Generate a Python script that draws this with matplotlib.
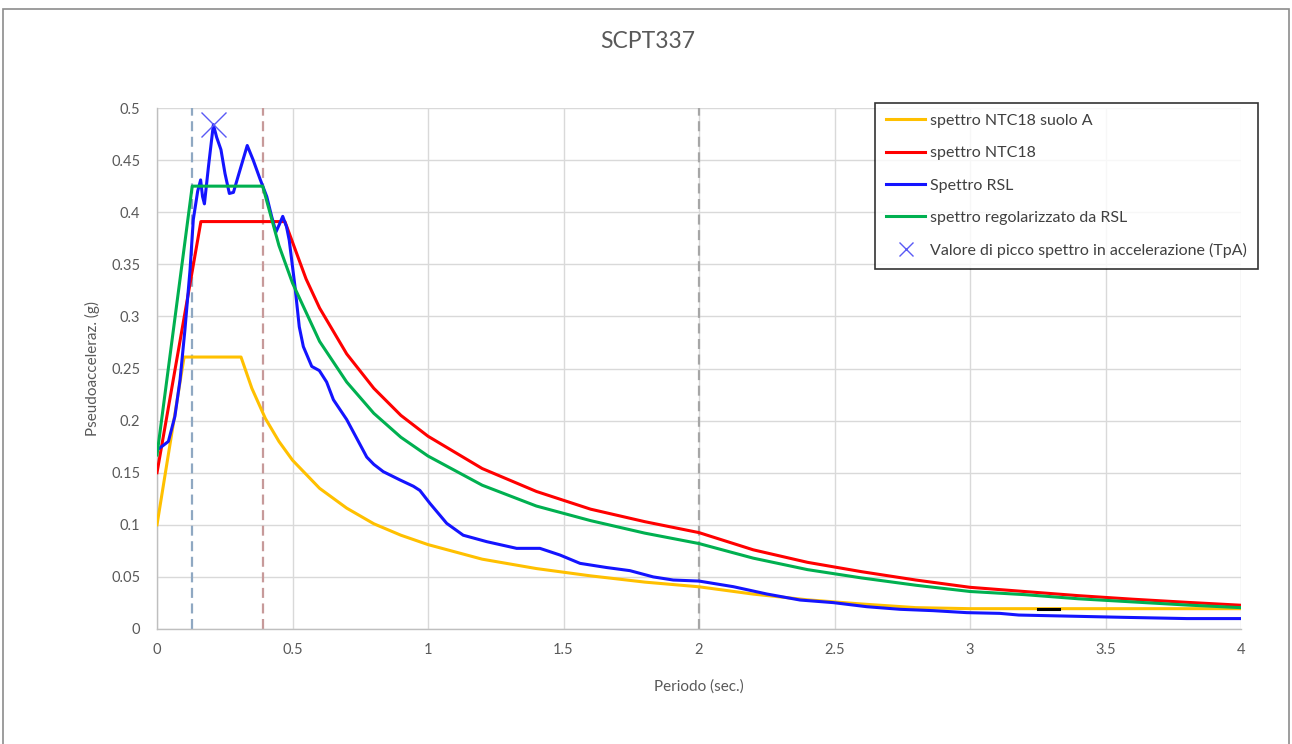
import matplotlib.pyplot as plt
from matplotlib.patches import Rectangle

plt.rcParams['font.family'] = ['Lato', 'DejaVu Sans']

# spettro NTC18 suolo A
t_suolo_a = [0, 0.10, 0.31, 0.35, 0.40, 0.45, 0.50, 0.60, 0.70, 0.80, 0.90, 1.0,
             1.2, 1.4, 1.6, 1.8, 2.0, 2.2, 2.4, 2.6, 2.8, 3.0, 3.5, 4.0]
sa_suolo_a = [0.100, 0.261, 0.261, 0.231, 0.202, 0.180, 0.162, 0.135, 0.116, 0.101,
              0.090, 0.081, 0.067, 0.058, 0.051, 0.045, 0.0405, 0.0335, 0.028, 0.024,
              0.0205, 0.0195, 0.0195, 0.0195]

# spettro NTC18
t_ntc = [0, 0.162, 0.472, 0.55, 0.6, 0.7, 0.8, 0.9, 1.0, 1.2, 1.4, 1.6, 1.8, 2.0,
         2.2, 2.4, 2.6, 2.8, 3.0, 3.2, 3.4, 3.6, 3.8, 4.0]
sa_ntc = [0.150, 0.391, 0.391, 0.336, 0.308, 0.264, 0.231, 0.205, 0.185, 0.154,
          0.132, 0.115, 0.103, 0.0925, 0.076, 0.064, 0.055, 0.047, 0.040, 0.036,
          0.032, 0.0286, 0.0256, 0.0228]

# Spettro RSL
t_rsl = [0, 0.017, 0.042, 0.066, 0.085, 0.103, 0.122, 0.134, 0.150, 0.161, 0.168,
         0.175, 0.190, 0.208, 0.220, 0.236, 0.251, 0.267, 0.282, 0.300, 0.333, 0.355,
         0.380, 0.405, 0.423, 0.439, 0.451, 0.464, 0.478, 0.488, 0.509, 0.525, 0.540,
         0.571, 0.599, 0.626, 0.651, 0.700, 0.774, 0.800, 0.835, 0.897, 0.946, 0.970,
         1.007, 1.069, 1.13, 1.217, 1.327, 1.413, 1.487, 1.561, 1.659, 1.745, 1.831,
         1.905, 2.0, 2.127, 2.25, 2.373, 2.496, 2.619, 2.742, 2.865, 2.988, 3.11,
         3.18, 3.566, 3.80, 4.0]
sa_rsl = [0.172, 0.175, 0.180, 0.204, 0.239, 0.287, 0.345, 0.393, 0.420, 0.431, 0.415,
          0.408, 0.444, 0.484, 0.472, 0.460, 0.437, 0.418, 0.419, 0.435, 0.464, 0.450,
          0.432, 0.415, 0.396, 0.381, 0.388, 0.396, 0.386, 0.373, 0.329, 0.290, 0.271,
          0.252, 0.248, 0.237, 0.220, 0.201, 0.165, 0.158, 0.151, 0.143, 0.137, 0.133,
          0.1206, 0.1014, 0.090, 0.0838, 0.0774, 0.0774, 0.071, 0.063, 0.059, 0.056,
          0.050, 0.047, 0.046, 0.0406, 0.0336, 0.0278, 0.0253, 0.0214, 0.0189, 0.0176,
          0.0157, 0.0150, 0.0134, 0.0112, 0.0100, 0.0100]

# spettro regolarizzato da RSL
t_reg = [0, 0.13, 0.39, 0.45, 0.5, 0.6, 0.7, 0.8, 0.9, 1.0, 1.2, 1.4, 1.6, 1.8, 2.0,
         2.2, 2.4, 2.6, 2.8, 3.0, 3.2, 3.4, 3.6, 3.8, 4.0]
sa_reg = [0.167, 0.425, 0.425, 0.368, 0.332, 0.276, 0.237, 0.207, 0.184, 0.166,
          0.138, 0.118, 0.104, 0.092, 0.082, 0.068, 0.057, 0.049, 0.042, 0.036,
          0.033, 0.029, 0.026, 0.023, 0.0205]

# valore di picco (TpA)
t_peak = [0.208]
sa_peak = [0.485]

# periodi caratteristici (linee tratteggiate)
t_marks = [0.13, 0.39, 2.0]
mark_colors = ['#8FA8C2', '#C79A9A', '#A6A6A6']

# segmento nero
t_black = [3.25, 3.33]
sa_black = [0.0195, 0.0195]

x_ticks = [0, 0.5, 1, 1.5, 2, 2.5, 3, 3.5, 4]
x_labels = ['0', '0.5', '1', '1.5', '2', '2.5', '3', '3.5', '4']
y_ticks = [0, 0.05, 0.1, 0.15, 0.2, 0.25, 0.3, 0.35, 0.4, 0.45, 0.5]
y_labels = ['0', '0.05', '0.1', '0.15', '0.2', '0.25', '0.3', '0.35', '0.4', '0.45', '0.5']

text_color = '#595959'

fig = plt.figure(figsize=(12.92, 7.44), dpi=100)
fig.patches.append(Rectangle((3 / 1292, -0.1), 1286 / 1292, 1.1 - 9 / 744,
                             transform=fig.transFigure, fill=False,
                             edgecolor='#8C8C8C', linewidth=1.2))
ax = fig.add_axes([157 / 1292, 1 - 629 / 744, 1084 / 1292, 521 / 744])

for t, c in zip(t_marks, mark_colors):
    ax.plot([t, t], [0, 0.5], color=c, linestyle=(0, (4.5, 2.5)), linewidth=1.6, zorder=2)

ax.plot(t_suolo_a, sa_suolo_a, color='#FFC000', linewidth=2.2, label='spettro NTC18 suolo A', zorder=3)
ax.plot(t_ntc, sa_ntc, color='#FF0000', linewidth=2.2, label='spettro NTC18', zorder=3)
ax.plot(t_rsl, sa_rsl, color='#1414FF', linewidth=2.2, label='Spettro RSL', zorder=3)
ax.plot(t_reg, sa_reg, color='#00B050', linewidth=2.2, label='spettro regolarizzato da RSL', zorder=3)
ax.plot(t_peak, sa_peak, linestyle='none', marker='x', markersize=18,
        markeredgewidth=1.0, color='#5A5AF5',
        label='Valore di picco spettro in accelerazione (TpA)', zorder=4)
ax.plot(t_black, sa_black, color='black', linewidth=2.2, zorder=4)

ax.set_xlim(0, 4)
ax.set_ylim(0, 0.5)
ax.set_xticks(x_ticks)
ax.set_xticklabels(x_labels)
ax.set_yticks(y_ticks)
ax.set_yticklabels(y_labels)
ax.tick_params(length=0, labelsize=10.5, labelcolor=text_color)
ax.tick_params(axis='y', pad=12)
ax.tick_params(axis='x', pad=10)
ax.grid(True, color='#D9D9D9', linewidth=1.0, zorder=0)
ax.set_axisbelow(True)
for side in ['top', 'right']:
    ax.spines[side].set_visible(False)
for side in ['left', 'bottom']:
    ax.spines[side].set_color('#BFBFBF')
    ax.spines[side].set_linewidth(1.0)

ax.set_xlabel('Periodo (sec.)', fontsize=11, color=text_color, labelpad=16)
ax.set_ylabel('Pseudoacceleraz. (g)', fontsize=11, color=text_color, labelpad=8)
fig.text(648 / 1292, 1 - 42 / 744, 'SCPT337', fontsize=16.5, color=text_color,
         ha='center', va='center')

leg = ax.legend(loc='upper right', bbox_to_anchor=(1258 / 1292, 1 - 103 / 744),
                bbox_transform=fig.transFigure, borderaxespad=0, fontsize=11.5,
                frameon=True, fancybox=False, edgecolor='black', labelspacing=1.13,
                handlelength=2.5, handletextpad=0.3, borderpad=0.68, markerscale=0.55,
                labelcolor='#404040')
leg.get_frame().set_linewidth(1.2)

fig.savefig('out.png', dpi=100)
